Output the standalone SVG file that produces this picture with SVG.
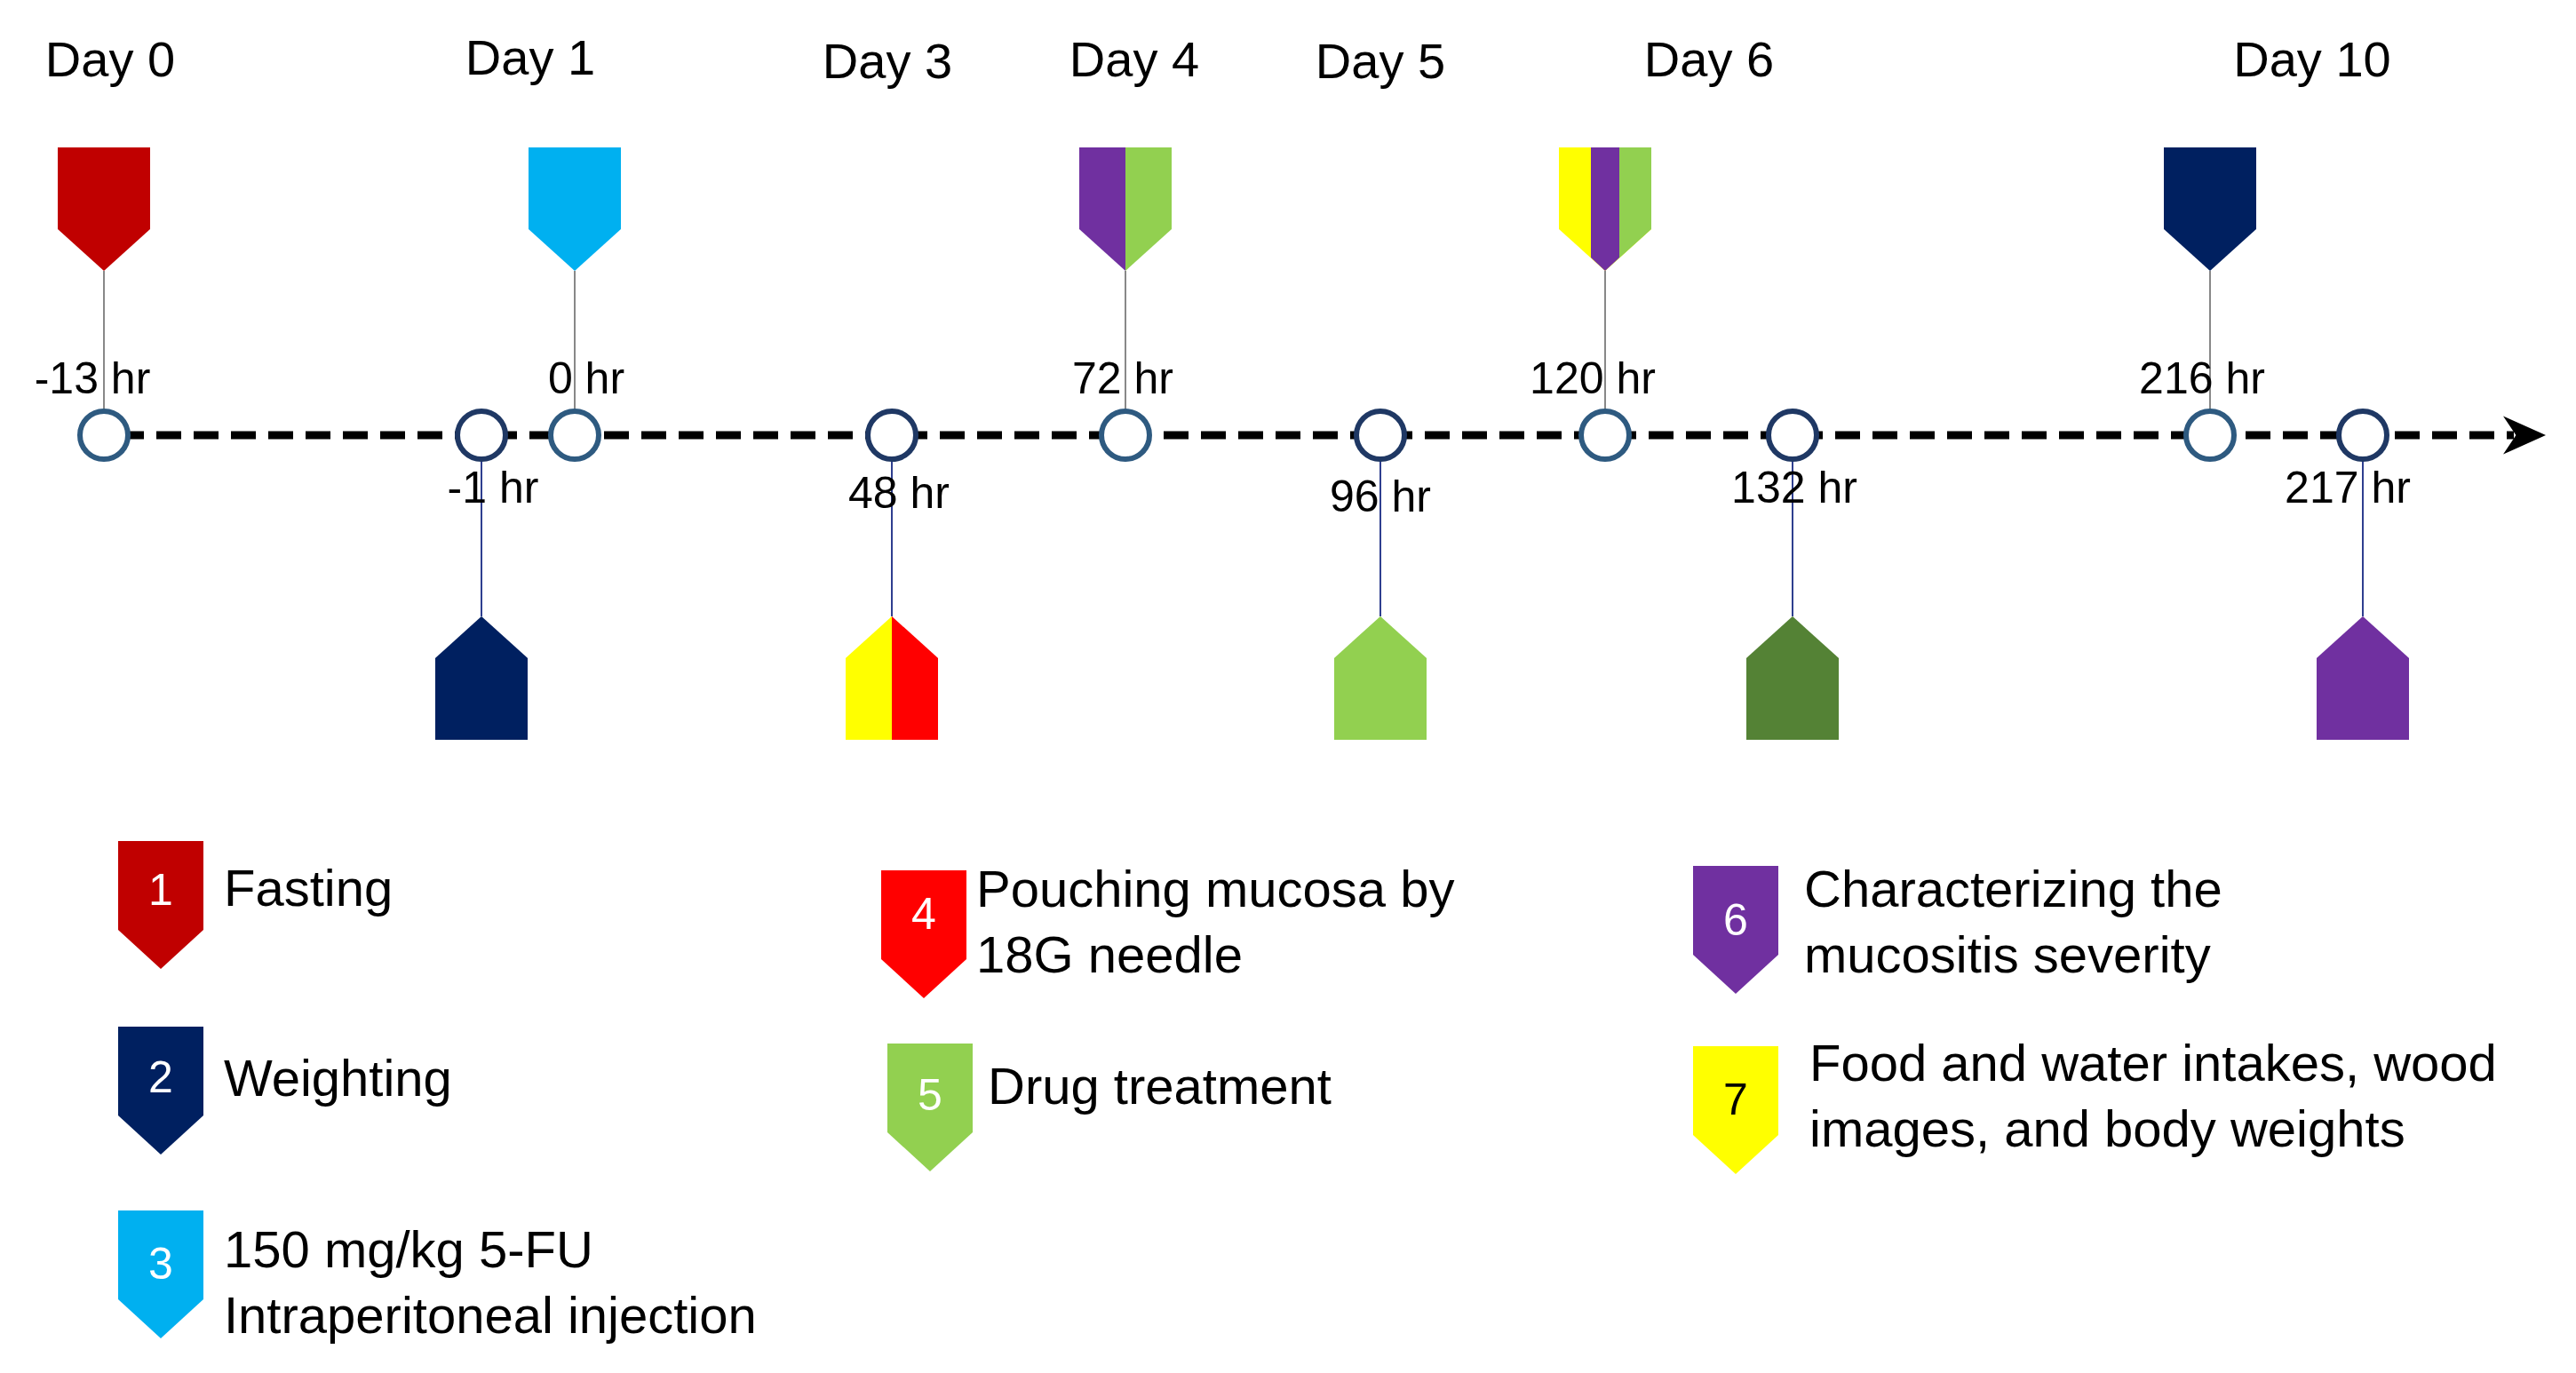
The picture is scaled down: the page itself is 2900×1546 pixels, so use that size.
<svg xmlns="http://www.w3.org/2000/svg" width="2900" height="1546" viewBox="0 0 2900 1546">
<style>
text{font-family:"Liberation Sans",Arial,sans-serif;fill:#000}
.day{font-size:56px;text-anchor:middle}
.hr{font-size:50px;text-anchor:middle}
.lg{font-size:58px}
.num{font-size:50px;fill:#fff;text-anchor:middle}
.node circle{fill:#fff;stroke:#1F3864;stroke-width:6}
.stem{stroke:#888;stroke-width:2}
.stemb{stroke:#2F3F8F;stroke-width:2}
</style>
<defs>
<path id="top" d="M-52,0 H52 V92 L0,139 L-52,92 Z"/>
<path id="topL" d="M-52,0 H0 V139 L-52,92 Z"/>
<path id="topR" d="M0,0 H52 V92 L0,139 Z"/>
<path id="bot" d="M-52,139 H52 V47 L0,0 L-52,47 Z"/>
<path id="botL" d="M-52,139 H0 V0 L-52,47 Z"/>
<path id="botR" d="M0,139 H52 V47 L0,0 Z"/>
<path id="leg" d="M0,0 H96 V100 L48,144 L0,100 Z"/>
<marker id="ah" viewBox="0 0 40 40" refX="10" refY="20" markerWidth="48" markerHeight="48" markerUnits="userSpaceOnUse" orient="auto"><path d="M0,2 L40,20 L0,38 L12,20 Z" fill="#000"/></marker>
</defs>
<g id="days">
<text class="day" x="124" y="86">Day 0</text>
<text class="day" x="597" y="84">Day 1</text>
<text class="day" x="999" y="88">Day 3</text>
<text class="day" x="1277" y="86">Day 4</text>
<text class="day" x="1554" y="88">Day 5</text>
<text class="day" x="1924" y="86">Day 6</text>
<text class="day" x="2603" y="86">Day 10</text>
</g>
<g id="connectors">
<line x1="92" y1="490" x2="2830" y2="490" stroke="#000" stroke-width="9" stroke-dasharray="28,14" marker-end="url(#ah)"/>
<line class="stem" x1="117" y1="305" x2="117" y2="462"/>
<line class="stem" x1="647" y1="305" x2="647" y2="462"/>
<line class="stem" x1="1267" y1="305" x2="1267" y2="462"/>
<line class="stem" x1="1807" y1="305" x2="1807" y2="462"/>
<line class="stem" x1="2488" y1="305" x2="2488" y2="462"/>
<line class="stemb" x1="542" y1="518" x2="542" y2="694"/>
<line class="stemb" x1="1004" y1="518" x2="1004" y2="694"/>
<line class="stemb" x1="1554" y1="518" x2="1554" y2="694"/>
<line class="stemb" x1="2018" y1="518" x2="2018" y2="694"/>
<line class="stemb" x1="2660" y1="518" x2="2660" y2="694"/>
</g>
<g id="n-13" class="node"><circle cx="117" cy="490" r="27" style="stroke:#2E5A80"/><text class="hr" x="104" y="443">-13 hr</text><use href="#top" x="117" y="166" fill="#C00000"/></g>
<g id="n-1" class="node"><circle cx="542" cy="490" r="27"/><text class="hr" x="555" y="566">-1 hr</text><use href="#bot" x="542" y="694" fill="#002060"/></g>
<g id="n0" class="node"><circle cx="647" cy="490" r="27" style="stroke:#2E5A80"/><text class="hr" x="660" y="443">0 hr</text><use href="#top" x="647" y="166" fill="#00B0F0"/></g>
<g id="n48" class="node"><circle cx="1004" cy="490" r="27"/><text class="hr" x="1012" y="572">48 hr</text><use href="#botL" x="1004" y="694" fill="#FFFF00"/><use href="#botR" x="1004" y="694" fill="#FF0000"/></g>
<g id="n72" class="node"><circle cx="1267" cy="490" r="27" style="stroke:#2E5A80"/><text class="hr" x="1264" y="443">72 hr</text><use href="#topL" x="1267" y="166" fill="#7030A0"/><use href="#topR" x="1267" y="166" fill="#92D050"/></g>
<g id="n96" class="node"><circle cx="1554" cy="490" r="27"/><text class="hr" x="1554" y="576">96 hr</text><use href="#bot" x="1554" y="694" fill="#92D050"/></g>
<g id="n120" class="node"><circle cx="1807" cy="490" r="27" style="stroke:#2E5A80"/><text class="hr" x="1793" y="443">120 hr</text>
<use href="#top" x="1807" y="166" fill="#FFFF00"/>
<path d="M1823,166 H1859 V258 L1807,305 L1823,290 Z" fill="#92D050"/>
<path d="M1791,166 H1823 V290 L1807,305 L1791,290 Z" fill="#7030A0"/>
</g>
<g id="n132" class="node"><circle cx="2018" cy="490" r="27"/><text class="hr" x="2020" y="566">132 hr</text><use href="#bot" x="2018" y="694" fill="#548235"/></g>
<g id="n216" class="node"><circle cx="2488" cy="490" r="27" style="stroke:#2E5A80"/><text class="hr" x="2479" y="443">216 hr</text><use href="#top" x="2488" y="166" fill="#002060"/></g>
<g id="n217" class="node"><circle cx="2660" cy="490" r="27"/><text class="hr" x="2643" y="566">217 hr</text><use href="#bot" x="2660" y="694" fill="#7030A0"/></g>
<g id="legend">
<g id="l1"><use href="#leg" x="133" y="947" fill="#C00000"/><text class="num" x="181" y="1019">1</text><text class="lg" x="252" y="1020">Fasting</text></g>
<g id="l2"><use href="#leg" x="133" y="1156" fill="#002060"/><text class="num" x="181" y="1230">2</text><text class="lg" x="252" y="1234">Weighting</text></g>
<g id="l3"><use href="#leg" x="133" y="1363" fill="#00B0F0"/><text class="num" x="181" y="1440">3</text><text class="lg" x="252" y="1427">150 mg/kg 5-FU</text><text class="lg" x="252" y="1501">Intraperitoneal injection</text></g>
<g id="l4"><use href="#leg" x="992" y="980" fill="#FF0000"/><text class="num" x="1040" y="1046">4</text><text class="lg" x="1099" y="1021">Pouching mucosa by</text><text class="lg" x="1099" y="1095">18G needle</text></g>
<g id="l5"><use href="#leg" x="999" y="1175" fill="#92D050"/><text class="num" x="1047" y="1250">5</text><text class="lg" x="1112" y="1243">Drug treatment</text></g>
<g id="l6"><use href="#leg" x="1906" y="975" fill="#7030A0"/><text class="num" x="1954" y="1053">6</text><text class="lg" x="2031" y="1021">Characterizing the</text><text class="lg" x="2031" y="1095">mucositis severity</text></g>
<g id="l7"><use href="#leg" x="1906" y="1178" fill="#FFFF00"/><text class="num" x="1954" y="1255" style="fill:#000">7</text><text class="lg" x="2037" y="1217">Food and water intakes, wood</text><text class="lg" x="2037" y="1291">images, and body weights</text></g>
</g>
</svg>
